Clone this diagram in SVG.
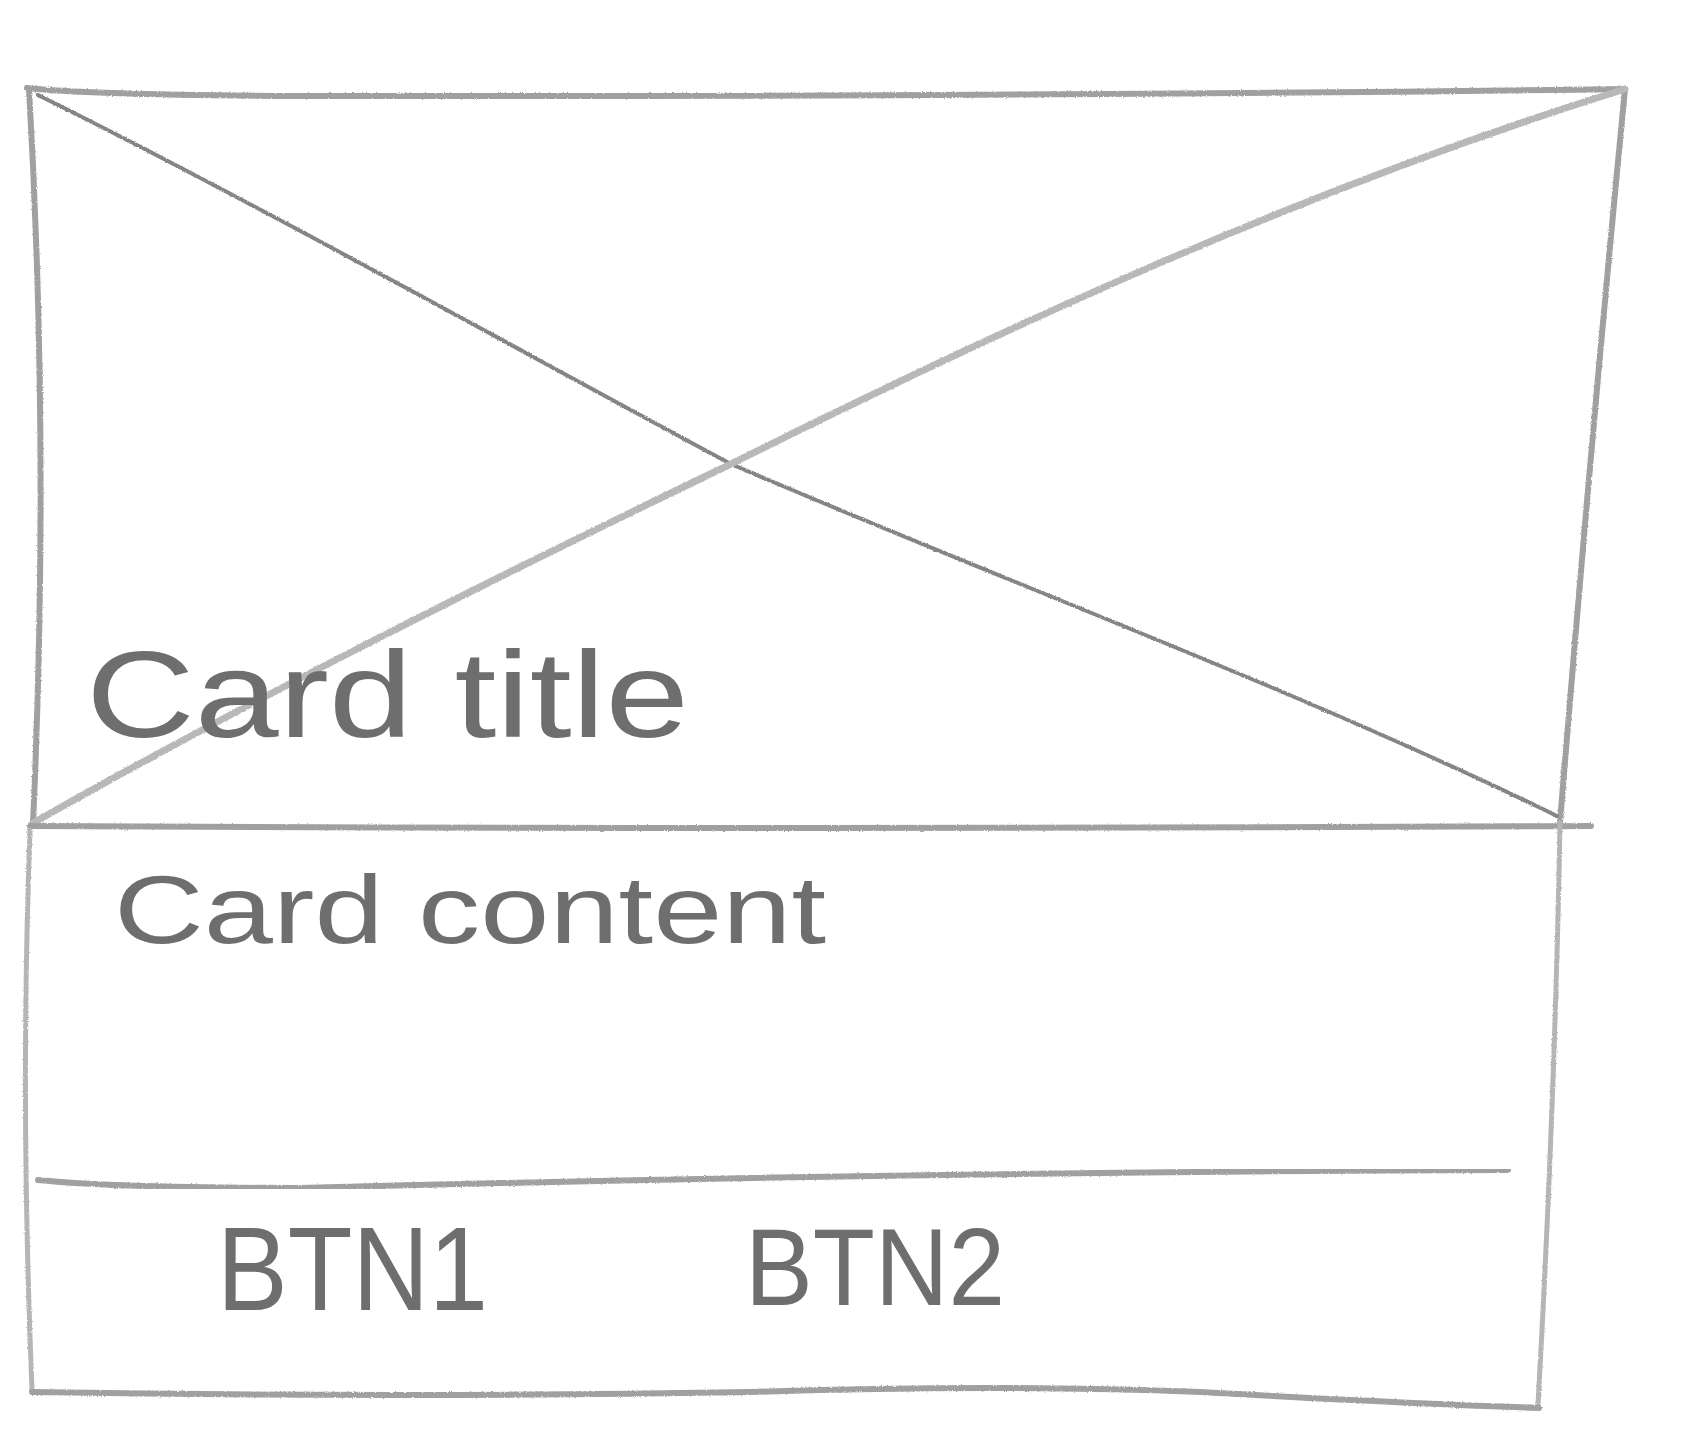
<svg xmlns="http://www.w3.org/2000/svg" width="1699" height="1445" viewBox="0 0 1699 1445">
  <defs>
    <filter id="pencil" x="-5%" y="-5%" width="110%" height="110%">
      <feTurbulence type="fractalNoise" baseFrequency="0.8" numOctaves="2" seed="3" result="n"/>
      <feDisplacementMap in="SourceGraphic" in2="n" scale="2.5" xChannelSelector="R" yChannelSelector="G"/>
    </filter>
  </defs>
  <style>
    .frame { fill: none; stroke: #a0a0a0; stroke-width: 6; stroke-linecap: round; stroke-linejoin: round; }
    .faint { fill: none; stroke: #b5b5b5; stroke-width: 5; stroke-linecap: round; }
    .diagA { fill: none; stroke: #858585; stroke-width: 4; stroke-linecap: round; }
    .diagB { fill: none; stroke: #b8b8b8; stroke-width: 7; stroke-linecap: round; }
    .hand { font-family: "Liberation Sans", "DejaVu Sans", sans-serif; fill: #6e6e6e; }
  </style>
  <rect x="0" y="0" width="1699" height="1445" fill="#ffffff"/>

  <g id="image-area" filter="url(#pencil)">
    <path class="frame" d="M27 88 Q 90 95 300 96 Q 1000 97 1625 89"/>
    <path class="frame" d="M29 89 Q 50 450 33 823"/>
    <path class="frame" d="M1625 89 Q 1590 450 1560 823"/>
    <path class="diagA" d="M38 95 C 250 200 500 340 731 464 C 1000 580 1300 690 1557 816"/>
    <path class="diagB" d="M33 823 C 250 700 480 585 731 464 C 1000 330 1300 190 1625 89"/>
  </g>

  <g id="content-area" filter="url(#pencil)">
    <path class="frame" d="M30 826 Q 800 830 1591 826"/>
    <path class="faint" d="M1560 823 Q 1555 1100 1538 1405"/>
    <path class="faint" d="M30 830 Q 20 1100 32 1390"/>
    <path class="frame" d="M32 1392 Q 400 1398 750 1392 Q 1000 1384 1200 1392 Q 1400 1403 1539 1408"/>
  </g>

  <g id="divider" filter="url(#pencil)">
    <path class="frame" d="M38 1180 Q 120 1188 300 1188 Q 900 1172 1508 1170"/>
  </g>

  <g id="card-title">
    <text class="hand" x="86" y="737" font-size="122" textLength="603" lengthAdjust="spacingAndGlyphs">Card title</text>
  </g>

  <g id="card-content">
    <text class="hand" x="114" y="943" font-size="96" textLength="712" lengthAdjust="spacingAndGlyphs">Card content</text>
  </g>

  <g id="btn1">
    <text class="hand" x="217" y="1310" font-size="118" textLength="271" lengthAdjust="spacingAndGlyphs">BTN1</text>
  </g>

  <g id="btn2">
    <text class="hand" x="745" y="1305" font-size="110" textLength="260" lengthAdjust="spacingAndGlyphs">BTN2</text>
  </g>
</svg>
